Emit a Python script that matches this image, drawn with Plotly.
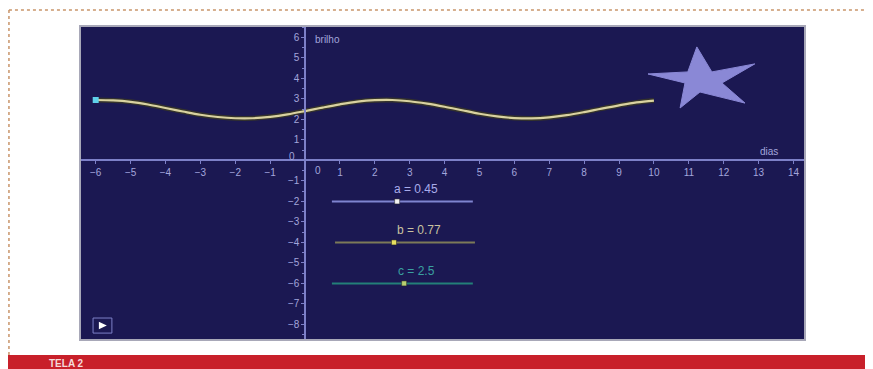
import plotly.graph_objects as go

# curve (dias -> brilho)
dias = [-6, -5.5, -5, -4.5, -4, -3.5, -3, -2.5, -2, -1.5, -1, -0.5, 0, 0.5, 1, 1.5,
        2, 2.5, 3, 3.5, 4, 4.5, 5, 5.5, 6, 6.5, 7, 7.5, 8, 8.5, 9, 9.5, 10]
brilho = [2.95, 2.93, 2.86, 2.73, 2.56, 2.39, 2.23, 2.12, 2.06, 2.06, 2.13, 2.25, 2.41, 2.58,
          2.74, 2.87, 2.94, 2.95, 2.89, 2.77, 2.62, 2.45, 2.28, 2.15, 2.07, 2.05, 2.10, 2.21,
          2.36, 2.53, 2.69, 2.83, 2.92]

# sliders
slider_labels = ['a = 0.45', 'b = 0.77', 'c = 2.5']
slider_y = [-2, -4, -6]
slider_x0 = [0.77, 0.86, 0.77]
slider_x1 = [4.81, 4.87, 4.81]
slider_handle = [2.64, 2.55, 2.84]
slider_line_colors = ['#7f84d0', '#7d7a58', '#237f78']
slider_text_colors = ['#a9acea', '#c9c2a0', '#3aa0a0']
slider_handle_colors = ['#f2f2f2', '#e8e060', '#b8d070']

# star outline (dias, brilho units)
star_x = [11.23, 11.66, 12.89, 11.95, 12.61, 11.32, 10.75, 10.89, 9.83, 10.97, 11.23]
star_y = [5.54, 4.32, 4.71, 3.78, 2.80, 3.34, 2.56, 3.78, 4.22, 4.32, 5.54]

x_ticks = [-6, -5, -4, -3, -2, -1, 1, 2, 3, 4, 5, 6, 7, 8, 9, 10, 11, 12, 13, 14]
y_ticks = [-8, -7, -6, -5, -4, -3, -2, -1, 1, 2, 3, 4, 5, 6]

x_range = [-6.45, 14.33]
y_range = [-8.76, 6.56]

axis_col = '#7d80c8'
label_col = '#a3a6dc'
font = 'Liberation Sans, Arial, sans-serif'

fig = go.Figure()

fig.add_trace(go.Scatter(x=star_x, y=star_y, fill='toself', fillcolor='#8a88d6',
                         mode='lines', line=dict(color='#8a88d6', width=1), hoverinfo='skip'))

fig.add_trace(go.Scatter(x=dias, y=brilho, mode='lines', line=dict(color='#35332c', width=5, shape='spline'),
                         hoverinfo='skip'))
fig.add_trace(go.Scatter(x=dias, y=brilho, mode='lines', line=dict(color='#d9d2a0', width=2.2, shape='spline')))
fig.add_trace(go.Scatter(x=[dias[0]], y=[brilho[0]], mode='markers',
                         marker=dict(color='#5fd0ea', size=6, symbol='square')))

for i, lab in enumerate(slider_labels):
    fig.add_trace(go.Scatter(x=[slider_x0[i], slider_x1[i]], y=[slider_y[i], slider_y[i]], mode='lines',
                             line=dict(color=slider_line_colors[i], width=2)))
    fig.add_trace(go.Scatter(x=[slider_handle[i]], y=[slider_y[i]], mode='markers',
                             marker=dict(color=slider_handle_colors[i], size=5, symbol='square',
                                         line=dict(color='#222', width=0.5))))
    fig.add_annotation(x=(slider_x0[i] + slider_x1[i]) / 2 + 0.4, y=slider_y[i] + 0.62, text=lab,
                       showarrow=False, font=dict(size=12, color=slider_text_colors[i], family=font))

fig.add_annotation(x=0.22, y=5.9, text='brilho', xanchor='left', showarrow=False,
                   font=dict(size=10, color=label_col, family=font))
fig.add_annotation(x=13.3, y=0.42, text='dias', showarrow=False,
                   font=dict(size=10, color=label_col, family=font))
fig.add_annotation(x=0.37, y=-0.5, text='0', showarrow=False, font=dict(size=10, color=label_col, family=font))
fig.add_annotation(x=-0.37, y=0.2, text='0', showarrow=False, font=dict(size=10, color=label_col, family=font))

# panel frame, play button
fig.add_shape(type='rect', xref='paper', yref='paper', x0=0, x1=1, y0=0, y1=1,
              line=dict(color='#a8a8b8', width=2))
fig.add_shape(type='rect', xref='paper', yref='paper', x0=0.018, x1=0.044, y0=0.022, y1=0.07,
              line=dict(color='#7d80c8', width=1))
fig.add_shape(type='path', xref='paper', yref='paper', path='M 0.026 0.034 L 0.026 0.058 L 0.037 0.046 Z',
              fillcolor='white', line=dict(width=0))

# page decoration: dotted frame and red bar
fig.add_shape(type='line', xref='paper', yref='paper', x0=-0.098, x1=1.2, y0=1.051, y1=1.051,
              line=dict(color='#c9956a', width=1.5, dash='dot'))
fig.add_shape(type='line', xref='paper', yref='paper', x0=-0.098, x1=-0.098, y0=1.051, y1=-0.048,
              line=dict(color='#c9956a', width=1.5, dash='dot'))
fig.add_shape(type='rect', xref='paper', yref='paper', x0=-0.105, x1=1.2, y0=-0.048, y1=-0.1,
              fillcolor='#c8202a', line=dict(width=0))
fig.add_annotation(xref='paper', yref='paper', x=-0.046, y=-0.05, xanchor='left', yanchor='top',
                   text='<b>TELA 2</b>', showarrow=False, font=dict(size=10, color='#f4dada', family=font))

# the page has an 8px body margin, so the margins are shifted to keep the panel in place
fig.update_layout(
    width=873, height=369,
    margin=dict(l=72, r=76, t=18, b=37),
    paper_bgcolor='white', plot_bgcolor='#1b1852',
    showlegend=False,
    xaxis=dict(range=x_range, anchor='free', position=(0 - y_range[0]) / (y_range[1] - y_range[0]),
               tickvals=x_ticks, showline=True, linecolor=axis_col, linewidth=1.5,
               ticks='outside', ticklen=3, tickcolor=axis_col, showgrid=False, zeroline=False,
               tickfont=dict(size=10, color=label_col, family=font)),
    yaxis=dict(range=y_range, anchor='free', position=(0 - x_range[0]) / (x_range[1] - x_range[0]),
               tickvals=y_ticks, showline=True, linecolor=axis_col, linewidth=1.5,
               ticks='outside', ticklen=3, tickcolor=axis_col, showgrid=False, zeroline=False,
               minor=dict(dtick=0.5, ticklen=2, tickcolor=axis_col, ticks='outside'),
               tickfont=dict(size=10, color=label_col, family=font)),
)

fig.write_html('out.html')
